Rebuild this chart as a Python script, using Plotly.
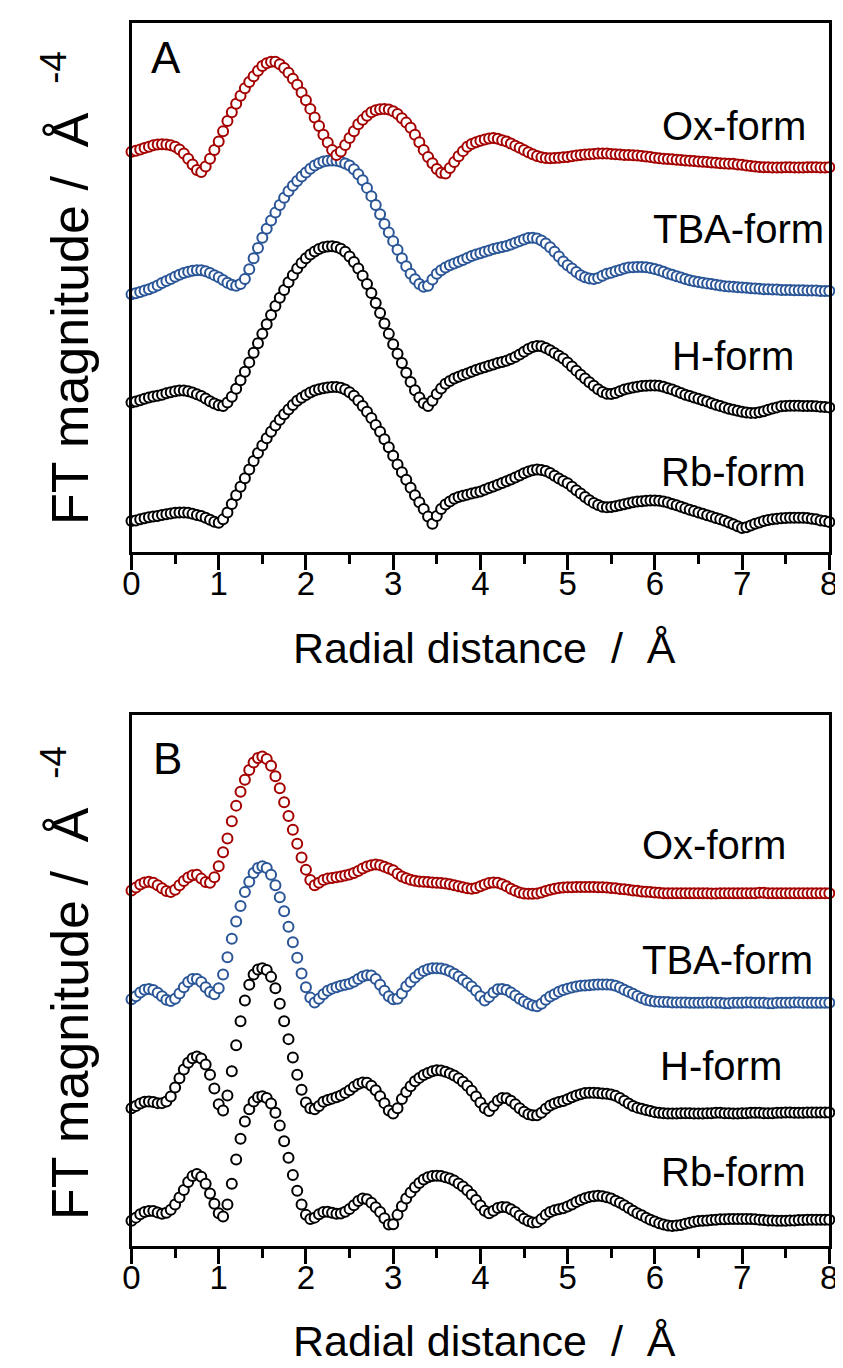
import plotly.graph_objects as go

# Radial distance grid (Å), 0.05 Å step
radial = [round(i * 0.05, 2) for i in range(161)]

# ---------------- Panel A (stacked FT magnitudes, a.u.) ----------------
a_ox = [
    11.65, 11.68, 11.72, 11.76, 11.80, 11.84, 11.86, 11.87, 11.86, 11.84,
    11.80, 11.72, 11.60, 11.45, 11.28, 11.12, 11.06, 11.22, 11.45, 11.70,
    11.95, 12.25, 12.55, 12.80, 13.05, 13.28, 13.50, 13.68, 13.85, 14.01,
    14.15, 14.23, 14.27, 14.27, 14.20, 14.09, 13.95, 13.78, 13.60, 13.38,
    13.15, 12.90, 12.65, 12.40, 12.15, 11.92, 11.70, 11.56, 11.66, 11.85,
    12.05, 12.25, 12.45, 12.58, 12.70, 12.80, 12.86, 12.89, 12.90, 12.88,
    12.83, 12.75, 12.63, 12.50, 12.35, 12.15, 11.93, 11.70, 11.50, 11.32,
    11.15, 11.04, 11.02, 11.18, 11.35, 11.52, 11.67, 11.80, 11.88, 11.93,
    11.97, 12.01, 12.04, 12.05, 12.03, 11.99, 11.95, 11.89, 11.83, 11.77,
    11.70, 11.64, 11.58, 11.53, 11.49, 11.47, 11.46, 11.47, 11.48, 11.49,
    11.50, 11.52, 11.54, 11.56, 11.57, 11.58, 11.59, 11.60, 11.60, 11.60,
    11.59, 11.58, 11.57, 11.56, 11.56, 11.55, 11.54, 11.53, 11.51, 11.50,
    11.48, 11.46, 11.45, 11.44, 11.43, 11.42, 11.41, 11.40, 11.39, 11.38,
    11.37, 11.36, 11.35, 11.34, 11.33, 11.32, 11.31, 11.30, 11.30, 11.28,
    11.27, 11.25, 11.24, 11.22, 11.21, 11.20, 11.20, 11.19, 11.19, 11.19,
    11.20, 11.20, 11.19, 11.19, 11.19, 11.20, 11.20, 11.20, 11.19, 11.19,
    11.20,
]
a_tba = [
    7.50, 7.53, 7.57, 7.61, 7.65, 7.70, 7.76, 7.83, 7.89, 7.95,
    8.01, 8.07, 8.12, 8.16, 8.19, 8.20, 8.20, 8.17, 8.12, 8.06,
    8.00, 7.92, 7.84, 7.78, 7.75, 7.80, 7.95, 8.23, 8.55, 8.85,
    9.15, 9.41, 9.65, 9.88, 10.10, 10.31, 10.50, 10.66, 10.80, 10.93,
    11.05, 11.16, 11.25, 11.32, 11.37, 11.39, 11.40, 11.39, 11.36, 11.31,
    11.25, 11.14, 11.00, 10.82, 10.60, 10.36, 10.10, 9.83, 9.55, 9.30,
    9.05, 8.80, 8.55, 8.32, 8.10, 7.94, 7.80, 7.72, 7.75, 7.93,
    8.10, 8.20, 8.28, 8.35, 8.40, 8.45, 8.50, 8.56, 8.62, 8.66,
    8.70, 8.74, 8.78, 8.82, 8.85, 8.88, 8.91, 8.95, 9.00, 9.05,
    9.10, 9.14, 9.15, 9.13, 9.07, 8.98, 8.87, 8.74, 8.60, 8.46,
    8.35, 8.25, 8.15, 8.06, 8.00, 7.96, 7.95, 7.98, 8.04, 8.10,
    8.13, 8.17, 8.21, 8.25, 8.28, 8.29, 8.30, 8.30, 8.29, 8.27,
    8.24, 8.20, 8.16, 8.11, 8.07, 8.03, 7.99, 7.95, 7.91, 7.88,
    7.86, 7.84, 7.82, 7.80, 7.78, 7.76, 7.74, 7.73, 7.72, 7.71,
    7.70, 7.69, 7.68, 7.67, 7.66, 7.65, 7.65, 7.64, 7.64, 7.63,
    7.63, 7.63, 7.62, 7.62, 7.62, 7.61, 7.61, 7.61, 7.60, 7.60,
    7.60,
]
a_h = [
    4.35, 4.38, 4.42, 4.46, 4.50, 4.53, 4.55, 4.58, 4.62, 4.65,
    4.68, 4.70, 4.70, 4.68, 4.64, 4.59, 4.54, 4.47, 4.39, 4.32,
    4.27, 4.25, 4.35, 4.52, 4.75, 5.00, 5.25, 5.52, 5.80, 6.08,
    6.35, 6.63, 6.90, 7.16, 7.40, 7.63, 7.85, 8.06, 8.25, 8.41,
    8.55, 8.66, 8.75, 8.82, 8.87, 8.89, 8.90, 8.88, 8.83, 8.74,
    8.60, 8.44, 8.25, 8.04, 7.80, 7.54, 7.25, 6.96, 6.65, 6.35,
    6.05, 5.77, 5.50, 5.22, 4.95, 4.71, 4.50, 4.33, 4.25, 4.40,
    4.60, 4.76, 4.90, 4.98, 5.05, 5.10, 5.15, 5.20, 5.25, 5.30,
    5.34, 5.38, 5.42, 5.46, 5.50, 5.53, 5.57, 5.62, 5.68, 5.75,
    5.83, 5.91, 5.97, 6.00, 5.99, 5.94, 5.87, 5.79, 5.71, 5.63,
    5.52, 5.40, 5.28, 5.16, 5.05, 4.94, 4.84, 4.74, 4.66, 4.61,
    4.60, 4.63, 4.68, 4.73, 4.76, 4.79, 4.81, 4.83, 4.84, 4.85,
    4.85, 4.84, 4.81, 4.77, 4.73, 4.68, 4.63, 4.58, 4.54, 4.50,
    4.46, 4.42, 4.38, 4.33, 4.29, 4.25, 4.21, 4.17, 4.14, 4.11,
    4.08, 4.06, 4.05, 4.05, 4.07, 4.10, 4.14, 4.18, 4.21, 4.24,
    4.25, 4.26, 4.26, 4.26, 4.25, 4.25, 4.25, 4.24, 4.23, 4.22,
    4.21,
]
a_rb = [
    0.90, 0.92, 0.95, 0.98, 1.01, 1.03, 1.05, 1.08, 1.10, 1.12,
    1.14, 1.15, 1.15, 1.14, 1.11, 1.08, 1.05, 1.00, 0.94, 0.88,
    0.85, 0.95, 1.15, 1.40, 1.65, 1.90, 2.15, 2.40, 2.65, 2.88,
    3.10, 3.31, 3.50, 3.68, 3.85, 4.01, 4.15, 4.28, 4.40, 4.49,
    4.57, 4.64, 4.70, 4.74, 4.77, 4.79, 4.80, 4.80, 4.78, 4.73,
    4.65, 4.55, 4.41, 4.25, 4.08, 3.90, 3.70, 3.50, 3.28, 3.05,
    2.80, 2.55, 2.32, 2.10, 1.87, 1.65, 1.45, 1.25, 1.03, 0.82,
    1.05, 1.25, 1.38, 1.47, 1.55, 1.60, 1.64, 1.67, 1.70, 1.73,
    1.76, 1.81, 1.86, 1.91, 1.96, 2.01, 2.06, 2.11, 2.17, 2.23,
    2.29, 2.34, 2.38, 2.40, 2.39, 2.36, 2.30, 2.22, 2.14, 2.07,
    2.00, 1.90, 1.80, 1.70, 1.60, 1.51, 1.43, 1.37, 1.32, 1.30,
    1.31, 1.33, 1.36, 1.39, 1.42, 1.45, 1.47, 1.48, 1.49, 1.50,
    1.50, 1.49, 1.47, 1.44, 1.40, 1.36, 1.32, 1.27, 1.23, 1.19,
    1.15, 1.11, 1.07, 1.03, 0.99, 0.95, 0.91, 0.86, 0.81, 0.75,
    0.70, 0.72, 0.77, 0.82, 0.86, 0.90, 0.93, 0.95, 0.97, 0.98,
    0.99, 1.00, 1.00, 1.00, 1.00, 0.99, 0.97, 0.95, 0.92, 0.90,
    0.87,
]

# ---------------- Panel B (stacked FT magnitudes, a.u.) ----------------
b_ox = [
    10.28, 10.36, 10.45, 10.51, 10.53, 10.50, 10.43, 10.34, 10.26, 10.23,
    10.30, 10.43, 10.55, 10.65, 10.72, 10.73, 10.62, 10.52, 10.50, 10.66,
    10.98, 11.38, 11.78, 12.28, 12.73, 13.13, 13.48, 13.76, 13.98, 14.11,
    14.15, 14.08, 13.88, 13.58, 13.23, 12.83, 12.43, 12.03, 11.63, 11.23,
    10.88, 10.58, 10.43, 10.50, 10.58, 10.62, 10.64, 10.66, 10.68, 10.71,
    10.74, 10.78, 10.84, 10.91, 10.97, 11.01, 11.03, 11.01, 10.96, 10.91,
    10.86, 10.76, 10.68, 10.63, 10.59, 10.56, 10.54, 10.53, 10.52, 10.51,
    10.50, 10.49, 10.48, 10.46, 10.43, 10.40, 10.37, 10.34, 10.33, 10.35,
    10.40, 10.45, 10.49, 10.51, 10.50, 10.46, 10.40, 10.33, 10.27, 10.22,
    10.19, 10.18, 10.18, 10.19, 10.22, 10.26, 10.30, 10.33, 10.35, 10.36,
    10.37, 10.37, 10.38, 10.38, 10.38, 10.38, 10.38, 10.37, 10.37, 10.36,
    10.35, 10.34, 10.32, 10.31, 10.30, 10.28, 10.27, 10.25, 10.24, 10.23,
    10.22, 10.21, 10.20, 10.20, 10.20, 10.20, 10.20, 10.20, 10.20, 10.20,
    10.20, 10.20, 10.20, 10.19, 10.19, 10.20, 10.20, 10.20, 10.20, 10.20,
    10.20, 10.20, 10.20, 10.20, 10.21, 10.21, 10.20, 10.20, 10.20, 10.20,
    10.20, 10.20, 10.20, 10.20, 10.20, 10.20, 10.20, 10.20, 10.20, 10.20,
    10.20,
]
b_tba = [
    7.13, 7.22, 7.33, 7.41, 7.43, 7.40, 7.32, 7.22, 7.12, 7.08,
    7.15, 7.30, 7.48, 7.63, 7.72, 7.72, 7.63, 7.48, 7.34, 7.28,
    7.45, 7.85, 8.35, 8.88, 9.38, 9.83, 10.23, 10.53, 10.78, 10.93,
    10.98, 10.93, 10.73, 10.43, 10.08, 9.68, 9.23, 8.78, 8.33, 7.88,
    7.48, 7.18, 7.04, 7.15, 7.28, 7.38, 7.44, 7.48, 7.52, 7.55,
    7.58, 7.64, 7.72, 7.79, 7.83, 7.82, 7.72, 7.55, 7.38, 7.22,
    7.13, 7.15, 7.30, 7.50, 7.63, 7.76, 7.87, 7.95, 8.00, 8.03,
    8.03, 8.02, 7.99, 7.94, 7.87, 7.79, 7.70, 7.60, 7.50, 7.38,
    7.22, 7.10, 7.20, 7.33, 7.42, 7.43, 7.40, 7.33, 7.24, 7.15,
    7.07, 7.00, 6.95, 6.93, 7.00, 7.12, 7.21, 7.28, 7.35, 7.40,
    7.44, 7.47, 7.50, 7.52, 7.53, 7.54, 7.55, 7.56, 7.56, 7.56,
    7.55, 7.52, 7.47, 7.41, 7.35, 7.29, 7.23, 7.17, 7.12, 7.09,
    7.07, 7.06, 7.05, 7.05, 7.04, 7.04, 7.04, 7.04, 7.03, 7.03,
    7.03, 7.03, 7.04, 7.04, 7.03, 7.03, 7.02, 7.02, 7.03, 7.03,
    7.03, 7.04, 7.04, 7.03, 7.03, 7.03, 7.02, 7.02, 7.03, 7.03,
    7.03, 7.03, 7.04, 7.04, 7.03, 7.03, 7.03, 7.03, 7.03, 7.03,
    7.03,
]
b_h = [
    3.98, 4.05, 4.12, 4.17, 4.18, 4.16, 4.13, 4.13, 4.18, 4.32,
    4.58, 4.85, 5.10, 5.30, 5.43, 5.48, 5.42, 5.25, 4.95, 4.55,
    4.10, 3.92, 4.35, 5.05, 5.80, 6.50, 7.10, 7.55, 7.85, 7.99,
    8.03, 7.98, 7.78, 7.45, 7.00, 6.50, 5.98, 5.45, 4.95, 4.52,
    4.15, 3.98, 3.95, 4.05, 4.17, 4.22, 4.26, 4.30, 4.35, 4.42,
    4.50, 4.60, 4.68, 4.73, 4.72, 4.63, 4.50, 4.33, 4.13, 3.92,
    3.83, 3.98, 4.25, 4.45, 4.62, 4.76, 4.86, 4.94, 5.00, 5.05,
    5.08, 5.07, 5.04, 4.99, 4.93, 4.85, 4.75, 4.63, 4.49, 4.32,
    4.15, 3.98, 3.90, 4.05, 4.20, 4.28, 4.27, 4.20, 4.10, 3.98,
    3.88, 3.81, 3.78, 3.78, 3.85, 3.97, 4.06, 4.12, 4.16, 4.19,
    4.24, 4.30, 4.35, 4.39, 4.42, 4.43, 4.43, 4.42, 4.41, 4.40,
    4.38, 4.34, 4.28, 4.20, 4.12, 4.05, 4.00, 3.97, 3.93, 3.90,
    3.87, 3.85, 3.84, 3.83, 3.83, 3.83, 3.84, 3.84, 3.84, 3.83,
    3.83, 3.83, 3.84, 3.84, 3.85, 3.85, 3.84, 3.84, 3.83, 3.83,
    3.84, 3.84, 3.85, 3.85, 3.85, 3.84, 3.84, 3.84, 3.85, 3.85,
    3.86, 3.86, 3.85, 3.85, 3.85, 3.86, 3.86, 3.86, 3.86, 3.86,
    3.86,
]
b_rb = [
    0.73, 0.82, 0.92, 0.98, 1.01, 1.01, 0.97, 0.93, 0.96, 1.05,
    1.20, 1.40, 1.62, 1.85, 2.02, 2.08, 2.00, 1.80, 1.52, 1.22,
    0.95, 0.85, 1.20, 1.80, 2.50, 3.10, 3.60, 3.95, 4.18, 4.30,
    4.33, 4.28, 4.12, 3.85, 3.48, 3.03, 2.55, 2.05, 1.60, 1.20,
    0.90, 0.78, 0.82, 0.92, 0.98, 0.99, 0.96, 0.93, 0.94, 0.99,
    1.07, 1.18, 1.30, 1.37, 1.35, 1.25, 1.12, 0.98, 0.80, 0.62,
    0.63, 0.90, 1.15, 1.37, 1.55, 1.70, 1.82, 1.92, 1.99, 2.02,
    2.03, 2.02, 1.99, 1.95, 1.89, 1.81, 1.72, 1.61, 1.48, 1.33,
    1.17, 1.02, 0.95, 1.02, 1.10, 1.13, 1.12, 1.06, 0.98, 0.88,
    0.79, 0.72, 0.68, 0.69, 0.78, 0.90, 0.98, 1.03, 1.06, 1.09,
    1.14, 1.20, 1.27, 1.33, 1.38, 1.42, 1.44, 1.45, 1.44, 1.41,
    1.37, 1.31, 1.25, 1.18, 1.10, 1.02, 0.95, 0.89, 0.82, 0.76,
    0.71, 0.66, 0.62, 0.59, 0.58, 0.59, 0.61, 0.64, 0.67, 0.70,
    0.72, 0.73, 0.74, 0.75, 0.76, 0.77, 0.77, 0.78, 0.78, 0.78,
    0.78, 0.78, 0.78, 0.77, 0.76, 0.75, 0.74, 0.74, 0.73, 0.73,
    0.73, 0.74, 0.74, 0.75, 0.75, 0.76, 0.76, 0.76, 0.76, 0.76,
    0.76,
]

series_names = ["Rb-form", "H-form", "TBA-form", "Ox-form"]
series_colors = ["#000000", "#000000", "#2A5597", "#A50000"]
panel_a = [a_rb, a_h, a_tba, a_ox]
panel_b = [b_rb, b_h, b_tba, b_ox]
tick_values = [0, 1, 2, 3, 4, 5, 6, 7, 8]
minor_tick_values = [0.5, 1.5, 2.5, 3.5, 4.5, 5.5, 6.5, 7.5]

for s in panel_a + panel_b:
    assert len(s) == len(radial), len(s)

FONT = "Liberation Sans, Arial, sans-serif"
fig = go.Figure()

for ax, data in (("", panel_a), ("2", panel_b)):
    for name, col, ys in zip(series_names, series_colors, data):
        fig.add_trace(go.Scatter(
            x=radial, y=ys, mode="markers", name=name,
            xaxis="x" + ax, yaxis="y" + ax, showlegend=False,
            cliponaxis=False,
            marker=dict(symbol="circle", size=10, color="white",
                        line=dict(color=col, width=2)),
        ))

W, H = 843, 1368
xdom = [117 / W, 830 / W]
ydomA = [1 - 544 / H, 1 - 15 / H]
ydomB = [1 - 1238 / H, 1 - 707 / H]

xcommon = dict(
    range=[0, 8], tickvals=tick_values, ticks="outside", ticklen=15,
    tickwidth=2.5, tickcolor="black", showline=True, linewidth=2.5,
    linecolor="black", mirror=True, showgrid=False, zeroline=False,
    tickfont=dict(family=FONT, size=33, color="black"),
    minor=dict(tickvals=minor_tick_values, ticks="outside",
               ticklen=9, tickwidth=2.5, tickcolor="black", showgrid=False),
    ticklabelstandoff=-14,
)
ycommon = dict(
    showticklabels=False, ticks="", showline=True, linewidth=2.5,
    linecolor="black", mirror=True, showgrid=False, zeroline=False,
)

fig.update_layout(
    width=W, height=H, margin=dict(l=0, r=0, t=0, b=0),
    paper_bgcolor="white", plot_bgcolor="white",
    font=dict(family=FONT, color="black"),
    xaxis=dict(domain=xdom, anchor="y", **xcommon),
    yaxis=dict(domain=ydomA, anchor="x", range=[0, 15.4], **ycommon),
    xaxis2=dict(domain=xdom, anchor="y2", **xcommon),
    yaxis2=dict(domain=ydomB, anchor="x2", range=[0, 15.35], **ycommon),
)

ann = []
# panel letters
ann.append(dict(text="A", x=0.2, y=14.4, xref="x", yref="y",
                showarrow=False, font=dict(size=44),
                xanchor="left", yanchor="middle"))
ann.append(dict(text="B", x=0.22, y=14.1, xref="x2", yref="y2",
                showarrow=False, font=dict(size=44),
                xanchor="left", yanchor="middle"))
# curve labels panel A (right edge, vertical centre)
for txt, xx, yy in (("Ox-form", 7.76, 12.4), ("TBA-form", 7.96, 9.4),
                    ("H-form", 7.62, 5.7), ("Rb-form", 7.75, 2.32)):
    ann.append(dict(text=txt, x=xx, y=yy, xref="x", yref="y", showarrow=False,
                    xanchor="right", yanchor="middle", font=dict(size=40)))
# curve labels panel B
for txt, xx, yy in (("Ox-form", 7.53, 11.58), ("TBA-form", 7.84, 8.26),
                    ("H-form", 7.48, 5.2), ("Rb-form", 7.75, 2.13)):
    ann.append(dict(text=txt, x=xx, y=yy, xref="x2", yref="y2", showarrow=False,
                    xanchor="right", yanchor="middle", font=dict(size=40)))
# axis titles
xtitle = "Radial distance \u00a0/ \u00a0Å"
for yc in (640, 1333):
    ann.append(dict(text=xtitle, x=478 / W, y=1 - yc / H,
                    xref="paper", yref="paper", showarrow=False,
                    xanchor="center", yanchor="middle", font=dict(size=43)))
ytitle = "FT magnitude / \u00a0Å \u00a0<sup>-4</sup>"
for yc in (280, 975):
    ann.append(dict(text=ytitle, x=50 / W, y=1 - yc / H,
                    xref="paper", yref="paper", showarrow=False,
                    xanchor="center", yanchor="middle",
                    textangle=-90, font=dict(size=52)))
fig.update_layout(annotations=ann)

fig.write_html("out.html")
